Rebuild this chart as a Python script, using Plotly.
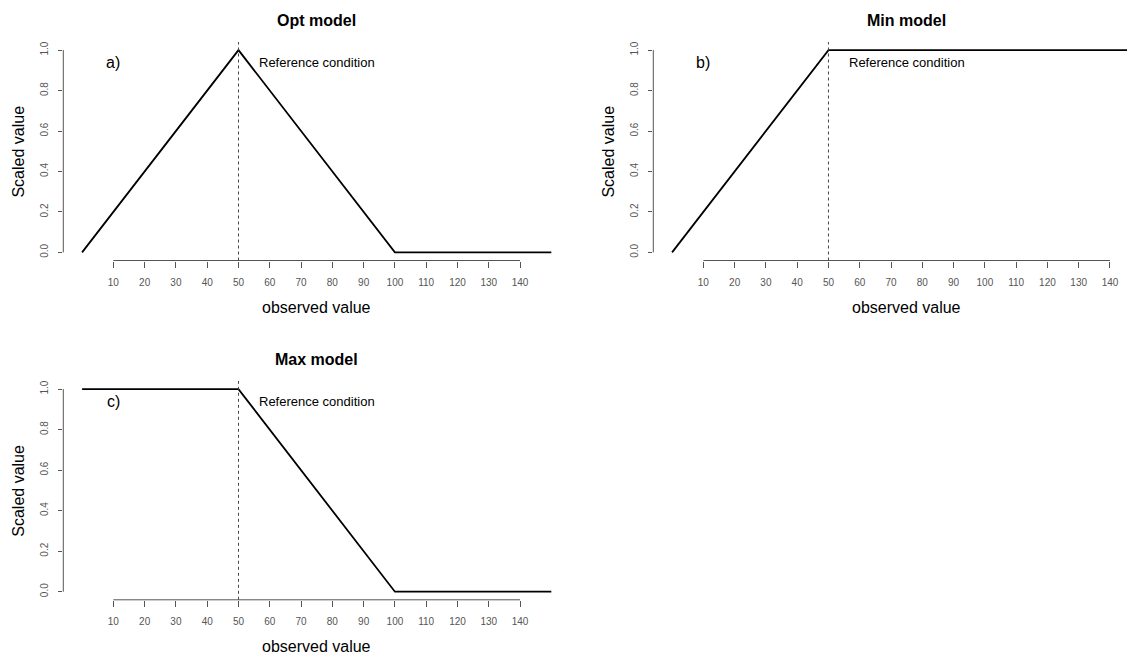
import plotly.graph_objects as go

# the page body has an 8px margin, so figure pixels are offset by 8 from window pixels
OFF = 8
W, H = 1135 - OFF, 659 - OFF

# ---- data ----
opt_x = [0, 50, 100, 150]
opt_y = [0, 1, 0, 0]
min_x = [0, 50, 150]
min_y = [0, 1, 1]
max_x = [0, 50, 100, 150]
max_y = [1, 1, 0, 0]
ref_value = 50
x_ticks = [10, 20, 30, 40, 50, 60, 70, 80, 90, 100, 110, 120, 130, 140]
y_ticks = [0.0, 0.2, 0.4, 0.6, 0.8, 1.0]
y_tick_labels = ["0.0", "0.2", "0.4", "0.6", "0.8", "1.0"]
titles = ["Opt model", "Min model", "Max model"]
panel_tags = ["a)", "b)", "c)"]
ref_label = "Reference condition"
tag_pos = (10, 0.94)
ref_pos = (75, 0.94)

FONT = "Liberation Sans, Arial, sans-serif"
AX = "#555555"

# panel boxes in window pixels: (left, right, top, bottom)
boxes = [(63.3, 570.1, 42.0, 260.5), (653.3, 1135, 42.0, 260.5), (63.3, 570.1, 381.0, 599.8)]
xranges = [[-6, 156], [-6, 148.0], [-6, 156]]
yrange = [-0.04, 1.04]
series = [(opt_x, opt_y), (min_x, min_y), (max_x, max_y)]

fig = go.Figure()
shapes = []
annotations = []

for i, (box, (xs, ys)) in enumerate(zip(boxes, series)):
    n = i + 1
    xa = "x" if n == 1 else f"x{n}"
    ya = "y" if n == 1 else f"y{n}"
    l, r, t, b = [v - OFF for v in box]
    dom_x = [l / W, min(r / W, 1.0)]
    dom_y = [1 - b / H, 1 - t / H]
    fig.add_trace(go.Scatter(x=xs, y=ys, mode="lines", xaxis=xa, yaxis=ya,
                             line=dict(color="black", width=1.8), showlegend=False,
                             hoverinfo="skip"))
    xkey = "xaxis" if n == 1 else f"xaxis{n}"
    ykey = "yaxis" if n == 1 else f"yaxis{n}"
    fig.update_layout({
        xkey: dict(domain=dom_x, range=xranges[i], anchor=ya, showgrid=False, zeroline=False,
                   showline=False, ticks="outside", ticklen=6, tickwidth=1, tickcolor=AX,
                   tickvals=x_ticks, ticktext=[str(v) for v in x_ticks],
                   tickfont=dict(family=FONT, size=10, color=AX), ticklabelstandoff=6),
        ykey: dict(domain=dom_y, range=yrange, anchor=xa, showgrid=False, zeroline=False,
                   showline=False, ticks="outside", ticklen=4, tickwidth=1, tickcolor=AX,
                   tickvals=y_ticks, ticktext=y_tick_labels, tickangle=-90,
                   tickfont=dict(family=FONT, size=10, color=AX), ticklabelstandoff=6),
    })
    # axis lines spanning first to last tick (R style)
    shapes.append(dict(type="line", xref=xa, yref=f"{ya} domain", x0=x_ticks[0], x1=x_ticks[-1],
                       y0=0, y1=0, line=dict(color=AX, width=1)))
    shapes.append(dict(type="line", xref=f"{xa} domain", yref=ya, x0=0, x1=0,
                       y0=y_ticks[0], y1=y_ticks[-1], line=dict(color=AX, width=1)))
    # reference dashed line
    shapes.append(dict(type="line", xref=xa, yref=f"{ya} domain", x0=ref_value, x1=ref_value,
                       y0=0, y1=1, line=dict(color="#444444", width=1, dash="3px,3px")))
    # texts
    annotations.append(dict(x=tag_pos[0], y=tag_pos[1], xref=xa, yref=ya, text=panel_tags[i],
                            showarrow=False, font=dict(family=FONT, size=16, color="black")))
    annotations.append(dict(x=ref_pos[0], y=ref_pos[1], xref=xa, yref=ya, text=ref_label,
                            showarrow=False, font=dict(family=FONT, size=13, color="black")))
    annotations.append(dict(x=75, y=1 - (t - 22) / H, xref=xa, yref="paper", text="<b>" + titles[i] + "</b>",
                            showarrow=False, yanchor="middle",
                            font=dict(family=FONT, size=16, color="black")))
    annotations.append(dict(x=75, y=1 - (b + 47) / H, xref=xa, yref="paper", text="observed value",
                            showarrow=False, yanchor="middle",
                            font=dict(family=FONT, size=16, color="black")))
    annotations.append(dict(x=(l - 45) / W, y=0.5, xref="paper", yref=f"{ya} domain",
                            text="Scaled value", textangle=-90, showarrow=False,
                            xanchor="center", yanchor="middle",
                            font=dict(family=FONT, size=16, color="black")))

fig.update_layout(width=W, height=H, margin=dict(l=0, r=0, t=0, b=0),
                  paper_bgcolor="white", plot_bgcolor="white",
                  shapes=shapes, annotations=annotations)

fig.write_html("out.html")
